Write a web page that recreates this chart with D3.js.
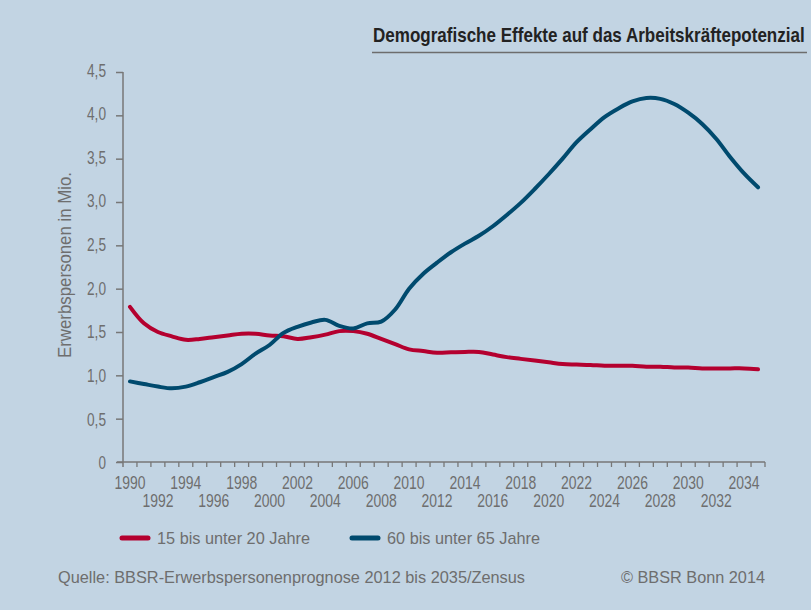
<!DOCTYPE html>
<html>
<head>
<meta charset="utf-8">
<script src="https://cdn.jsdelivr.net/npm/d3@7"></script>
<style>
  html, body { margin: 0; padding: 0; background: #c2d4e3; }
  svg { display: block; }
  text { font-family: "Liberation Sans", Arial, sans-serif; fill: #6e6e6e; }
</style>
</head>
<body>
<div id="chart"></div>
<script>
// years 1990..2035
var years = d3.range(1990, 2036);

// 15 bis unter 20 Jahre
var youngValues = [1.79, 1.60, 1.50, 1.45, 1.41, 1.42, 1.44, 1.46, 1.48, 1.48,
                   1.46, 1.45, 1.42, 1.44, 1.47, 1.51, 1.51, 1.48, 1.42, 1.36,
                   1.30, 1.28, 1.26, 1.265, 1.27, 1.27, 1.24, 1.21, 1.19, 1.17,
                   1.15, 1.13, 1.125, 1.12, 1.11, 1.11, 1.11, 1.10, 1.10, 1.09,
                   1.09, 1.08, 1.08, 1.08, 1.08, 1.07];

// 60 bis unter 65 Jahre
var oldValues = [0.93, 0.90, 0.87, 0.85, 0.87, 0.92, 0.98, 1.04, 1.13, 1.25,
                 1.35, 1.49, 1.56, 1.61, 1.64, 1.57, 1.54, 1.60, 1.62, 1.76,
                 2.00, 2.17, 2.30, 2.42, 2.52, 2.61, 2.72, 2.85, 2.99, 3.15,
                 3.32, 3.50, 3.69, 3.84, 3.98, 4.08, 4.16, 4.20, 4.19, 4.13,
                 4.03, 3.90, 3.73, 3.52, 3.33, 3.17];

var yTicks = [0, 0.5, 1, 1.5, 2, 2.5, 3, 3.5, 4, 4.5];
var xLabelYears = d3.range(1990, 2036, 2);

var seriesNames = ["15 bis unter 20 Jahre", "60 bis unter 65 Jahre"];
var seriesColors = ["#b4002f", "#004a6e"];

var title = "Demografische Effekte auf das Arbeitskräftepotenzial";
var yTitle = "Erwerbspersonen in Mio.";
var sourceText = "Quelle: BBSR-Erwerbspersonenprognose 2012 bis 2035/Zensus";
var copyText = "© BBSR Bonn 2014";

var width = 811, height = 610;
var fmt = function(d) { return d === 0 ? "0" : d3.format(".1f")(d).replace(".", ","); };

// the original uses a condensed face; squeeze Liberation Sans to that width
function fit(sel, w) {
  return sel.attr("textLength", w).attr("lengthAdjust", "spacingAndGlyphs");
}

var svg = d3.select("#chart").append("svg")
  .attr("width", width)
  .attr("height", height);

svg.append("rect").attr("width", width).attr("height", height).attr("fill", "#c2d4e3");

// title + rule (scaled horizontally so it ends at the right edge like the original)
var titleG = svg.append("g");
var titleText = titleG.append("text")
  .attr("x", 0).attr("y", 0)
  .style("font-weight", "bold")
  .style("font-size", "19.5px")
  .style("fill", "#222")
  .text(title);
var titleW = titleText.node().getComputedTextLength();
titleG.attr("transform", "translate(373,41.5) scale(" + (432 / titleW) + ",1)");

svg.append("line")
  .attr("x1", 372).attr("x2", 807)
  .attr("y1", 52.5).attr("y2", 52.5)
  .attr("stroke", "#6d6d6d").attr("stroke-width", 1.5);

var x = d3.scaleBand()
  .domain(years)
  .range([123, 765]);

var y = d3.scaleLinear()
  .domain([0, 4.5])
  .range([462, 72]);

// y axis
var yAxis = svg.append("g")
  .attr("transform", "translate(123,0)")
  .call(d3.axisLeft(y).tickValues(yTicks).tickSize(7).tickFormat(fmt));
yAxis.select(".domain").attr("stroke", "#777").attr("stroke-width", 1.5)
  .attr("d", "M0," + y(4.5) + "V" + (y(0) + 5));
yAxis.selectAll(".tick line").attr("stroke", "#777").attr("stroke-width", 1.5);
yAxis.selectAll(".tick text")
  .attr("x", -17)
  .attr("dy", function(d) { return (4 - d * 2.7 / 4.5 + 2.7) + "px"; })
  .style("font-size", "18.5px")
  .attr("fill", "#6e6e6e")
  .each(function(d) {
    d3.select(this).attr("textLength", d === 0 ? 7.5 : 19).attr("lengthAdjust", "spacingAndGlyphs");
  });

// x axis
var xAxis = svg.append("g")
  .attr("transform", "translate(0," + y(0) + ")")
  .call(d3.axisBottom(x).tickValues([]).tickSizeOuter(0));
xAxis.select(".domain").attr("stroke", "#777").attr("stroke-width", 1.5)
  .attr("d", "M117,0H765");

xAxis.selectAll(".bound")
  .data(d3.range(1, years.length + 1))
  .enter().append("line")
  .attr("class", "bound")
  .attr("x1", function(i) { return 123 + i * x.step(); })
  .attr("x2", function(i) { return 123 + i * x.step(); })
  .attr("y1", 0).attr("y2", 5)
  .attr("stroke", "#777").attr("stroke-width", 1.3);

fit(xAxis.selectAll(".yl")
  .data(xLabelYears)
  .enter().append("text")
  .attr("class", "yl")
  .attr("x", function(d) { return x(d) + x.bandwidth() / 2; })
  .attr("y", function(d, i) { return i % 2 === 0 ? 27 : 45; })
  .attr("text-anchor", "middle")
  .style("font-size", "18.5px")
  .text(function(d) { return d; }), 31);

// y title
fit(svg.append("text")
  .attr("transform", "translate(71,265) rotate(-90)")
  .attr("text-anchor", "middle")
  .style("font-size", "18px")
  .text(yTitle), 186);

// lines
var line = d3.line()
  .curve(d3.curveCatmullRom.alpha(0.5))
  .x(function(d, i) { return x(years[i]) + x.bandwidth() / 2; })
  .y(function(d) { return y(d); });

[youngValues, oldValues].forEach(function(vals, k) {
  svg.append("path")
    .datum(vals)
    .attr("d", line)
    .attr("fill", "none")
    .attr("stroke", seriesColors[k])
    .attr("stroke-width", 4)
    .attr("stroke-linecap", "round")
    .attr("stroke-linejoin", "round");
});

// legend
var legendX = [122, 352];
seriesNames.forEach(function(name, k) {
  var g = svg.append("g").attr("transform", "translate(" + legendX[k] + ",538)");
  g.append("line")
    .attr("x1", 0).attr("x2", 26)
    .attr("stroke", seriesColors[k]).attr("stroke-width", 5)
    .attr("stroke-linecap", "round");
  fit(g.append("text")
    .attr("x", 35).attr("y", 6)
    .style("font-size", "17px")
    .text(name), 153);
});

// footer
fit(svg.append("text")
  .attr("x", 58).attr("y", 582.5)
  .style("font-size", "17px")
  .text(sourceText), 467);
fit(svg.append("text")
  .attr("x", 621).attr("y", 582.5)
  .style("font-size", "17px")
  .text(copyText), 144);
</script>
</body>
</html>
